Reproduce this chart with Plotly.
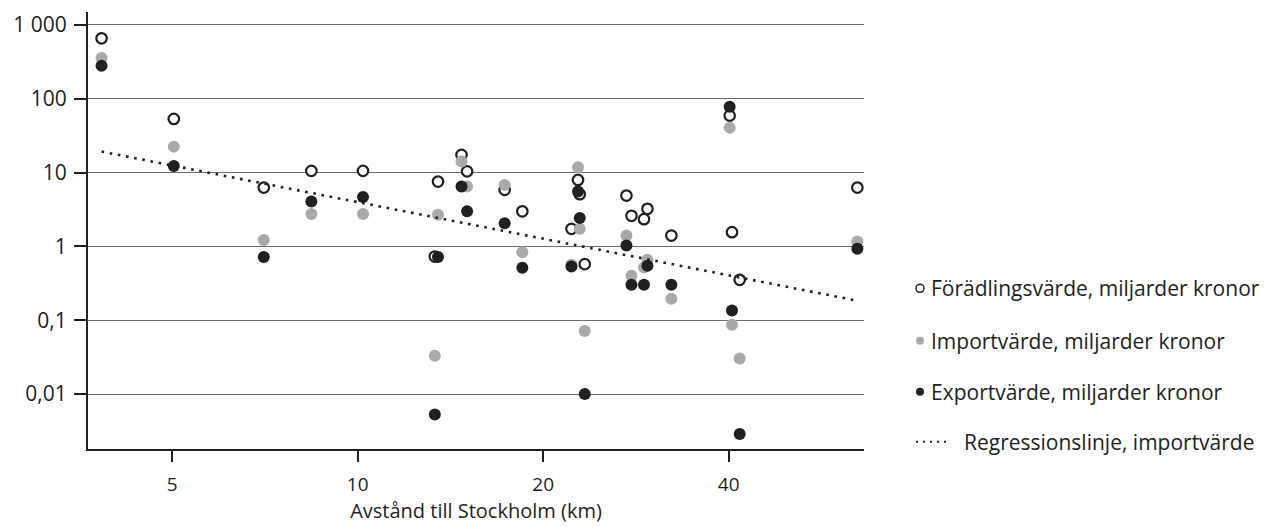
import plotly.graph_objects as go

# ---- data ----
distance_km = [3.84, 5.03, 7.04, 8.41, 10.2, 13.5, 13.34, 14.74, 15.05, 17.32, 18.5,
               22.23, 22.78, 22.93, 23.36, 27.3, 27.82, 29.53, 29.15, 32.29,
               40.15, 40.5, 41.68, 64.7]
foradlingsvarde = [660, 53.4, 6.27, 10.56, 10.56, 7.56, 0.73, 17.4, 10.4, 5.84, 2.99,
                   1.73, 7.97, 5.11, 0.576, 4.89, 2.6, 3.23, 2.34, 1.405,
                   59.2, 1.56, 0.353, 6.27]
importvarde = [357, 22.5, 1.22, 2.76, 2.76, 2.68, 0.0331, 14.1, 6.47, 6.82, 0.8375,
               0.564, 11.8, 1.73, 0.0714, 1.405, 0.4, 0.659, 0.518, 0.195,
               40.7, 0.0869, 0.0304, 1.165]
exportvarde = [281, 12.3, 0.717, 4.06, 4.69, 0.717, 0.0053, 6.47, 2.99, 2.06, 0.513,
               0.535, 5.54, 2.42, 0.01, 1.03, 0.302, 0.546, 0.302, 0.302,
               78.3, 0.136, 0.00288, 0.928]
regression_x = [3.84, 64.7]
regression_y = [19.3, 0.184]

x_tickvals = [5, 10, 20, 40]
x_ticktext = ["5", "10", "20", "40"]
y_tickvals = [0.01, 0.1, 1, 10, 100, 1000]
y_ticktext = ["0,01", "0,1", "1", "10", "100", "1 000"]

series_names = ["Förädlingsvärde, miljarder kronor",
                "Importvärde, miljarder kronor",
                "Exportvärde, miljarder kronor",
                "Regressionslinje, importvärde"]

# ---- style ----
BLACK = "#231f20"
GRAY = "#a7a9ac"
GRID = "#6d6d6d"
FONT = "Open Sans"

W, H = 1269, 527
ML, MR, MT, MB = 88, 405, 12, 78
PW, PH = W - ML - MR, H - MT - MB


def px_to_paper_x(px):
    return (px - ML) / PW


def py_to_paper_y(py):
    return (H - MB - py) / PH


fig = go.Figure()

fig.add_trace(go.Scatter(
    x=distance_km, y=foradlingsvarde, mode="markers", name=series_names[0],
    marker=dict(size=10.5, color="white", line=dict(color=BLACK, width=2.2)),
    showlegend=False))
fig.add_trace(go.Scatter(
    x=distance_km, y=importvarde, mode="markers", name=series_names[1],
    marker=dict(size=12, color=GRAY, line=dict(width=0)),
    showlegend=False))
fig.add_trace(go.Scatter(
    x=distance_km, y=exportvarde, mode="markers", name=series_names[2],
    marker=dict(size=12, color=BLACK, line=dict(width=0)),
    showlegend=False))
fig.add_trace(go.Scatter(
    x=regression_x, y=regression_y, mode="lines", name=series_names[3],
    line=dict(color=BLACK, width=2.6, dash="2.6px,5.7px"),
    showlegend=False))

# ---- custom legend (text as annotations, symbols as shapes) ----
rows_y = [288.3, 340.7, 391.7, 441.7]
marker_x = 920
text_x = 928.5
shapes = []
annotations = []
legend_marker_styles = [
    dict(fillcolor="white", line=dict(color=BLACK, width=1.5)),
    dict(fillcolor=GRAY, line=dict(width=0)),
    dict(fillcolor=BLACK, line=dict(width=0)),
]
for i in range(3):
    st = legend_marker_styles[i]
    shapes.append(dict(
        type="circle", xref="paper", yref="paper",
        xsizemode="pixel", ysizemode="pixel",
        xanchor=px_to_paper_x(marker_x), yanchor=py_to_paper_y(rows_y[i]),
        x0=-4, x1=4, y0=-4, y1=4,
        fillcolor=st["fillcolor"], line=st["line"], layer="above"))
    annotations.append(dict(
        x=px_to_paper_x(text_x), y=py_to_paper_y(rows_y[i]),
        xref="paper", yref="paper", xanchor="left", yanchor="middle",
        text=series_names[i], showarrow=False,
        font=dict(family=FONT, size=21, color=BLACK)))
shapes.append(dict(
    type="line", xref="paper", yref="paper",
    x0=px_to_paper_x(916), x1=px_to_paper_x(950),
    y0=py_to_paper_y(rows_y[3]), y1=py_to_paper_y(rows_y[3]),
    line=dict(color=BLACK, width=2, dash="2px,5px")))
annotations.append(dict(
    x=px_to_paper_x(962), y=py_to_paper_y(rows_y[3]),
    xref="paper", yref="paper", xanchor="left", yanchor="middle",
    text=series_names[3], showarrow=False,
    font=dict(family=FONT, size=21, color=BLACK)))

fig.update_layout(
    width=W, height=H,
    margin=dict(l=ML, r=MR, t=MT, b=MB, autoexpand=False),
    paper_bgcolor="white", plot_bgcolor="white",
    font=dict(family=FONT, size=21, color=BLACK),
    showlegend=False,
    shapes=shapes, annotations=annotations,
    xaxis=dict(
        type="log", range=[0.5623, 1.8217],
        tickvals=x_tickvals, ticktext=x_ticktext,
        showline=True, linecolor=BLACK, linewidth=2,
        ticks="outside", ticklen=11, tickwidth=2, tickcolor=BLACK,
        ticklabelstandoff=6,
        showgrid=False, zeroline=False,
        tickfont=dict(family=FONT, size=19, color=BLACK),
        title=dict(text="Avstånd till Stockholm (km)", standoff=0,
                   font=dict(family=FONT, size=20, color=BLACK)),
    ),
    yaxis=dict(
        type="log", range=[-2.744, 3.176],
        tickvals=y_tickvals, ticktext=y_ticktext,
        showline=True, linecolor=BLACK, linewidth=2,
        ticks="outside", ticklen=12, tickwidth=2, tickcolor=BLACK,
        ticklabelstandoff=3,
        showgrid=True, gridcolor=GRID, gridwidth=1.3,
        zeroline=False,
        tickfont=dict(family=FONT, size=21, color=BLACK),
    ),
)

fig.write_html("out.html")
